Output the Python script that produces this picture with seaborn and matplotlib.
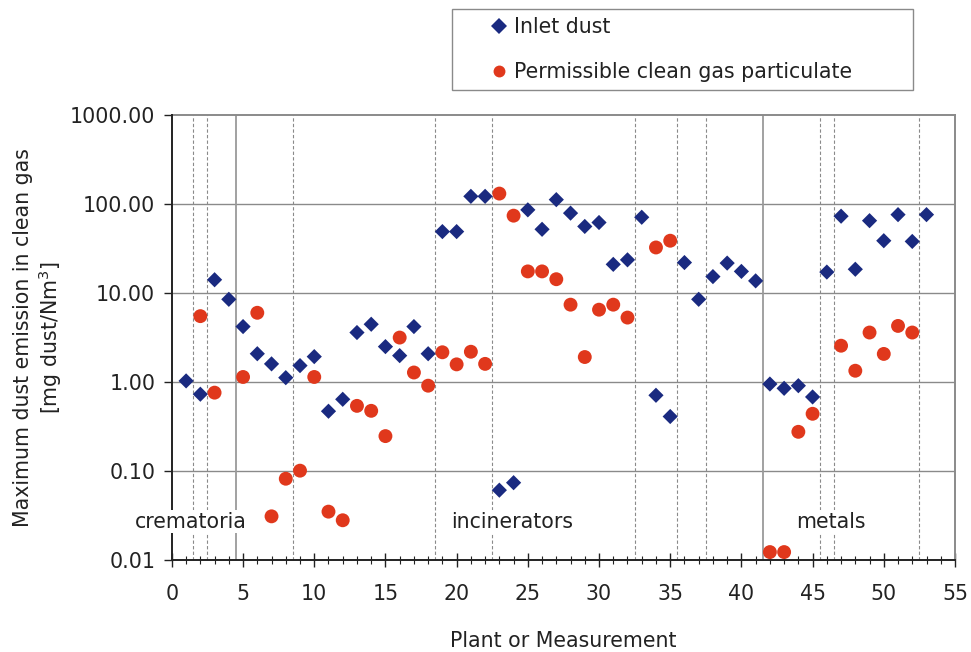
import numpy as np
import pandas as pd
import matplotlib
matplotlib.use("Agg")
import matplotlib.pyplot as plt
import matplotlib.patches as mpatches
from matplotlib.ticker import FixedLocator, MultipleLocator, FuncFormatter
import seaborn as sns

# measurements 1..53
PLANT = list(range(1, 54))

INLET_DUST = [
    1.03, 0.73, 14.1, 8.5, 4.2, 2.08, 1.6, 1.12, 1.53, 1.93,
    0.47, 0.64, 3.6, 4.46, 2.5, 1.98, 4.2, 2.08, 49, 49,
    122, 122, 0.061, 0.074, 86, 52, 112, 79, 56, 62,
    21, 23.6, 71, 0.71, 0.41, 22, 8.5, 15.3, 21.7, 17.5,
    13.7, 0.95, 0.85, 0.91, 0.68, 17.2, 73, 18.5, 65, 38.7,
    76, 38, 76,
]

nan = np.nan
PERMISSIBLE = [
    nan, 5.5, 0.76, nan, 1.14, 6.0, 0.031, 0.082, 0.101, 1.14,
    0.035, 0.028, 0.54, 0.475, 0.247, 3.16, 1.28, 0.91, 2.16, 1.58,
    2.19, 1.6, 131, 74, 17.5, 17.5, 14.3, 7.4, 1.91, 6.5,
    7.4, 5.3, nan, 32.5, 38.7, nan, nan, nan, nan, nan,
    nan, 0.0123, 0.0123, 0.276, 0.44, nan, 2.56, 1.34, 3.6, 2.07,
    4.27, 3.6, nan,
]

SERIES = ["Inlet dust", "Permissible clean gas particulate"]
PALETTE = {SERIES[0]: "#1a2a80", SERIES[1]: "#e0381c"}
MARKERS = {SERIES[0]: "D", SERIES[1]: "o"}

# group separators
DASHED_SEP = [1.5, 2.5, 8.5, 18.5, 22.5, 32.5, 35.5, 37.5, 45.5, 46.5, 52.5]
SOLID_SEP = [4.5, 41.5]

GROUP_LABELS = ["crematoria", "incinerators", "metals"]
GROUP_X = [1.3, 23.9, 46.3]
GROUP_Y = 0.027

YTICKS = [0.01, 0.1, 1, 10, 100, 1000]

df = pd.concat([
    pd.DataFrame({"plant": PLANT, "value": INLET_DUST, "series": SERIES[0]}),
    pd.DataFrame({"plant": PLANT, "value": PERMISSIBLE, "series": SERIES[1]}),
]).dropna()

sns.set_style("white")
plt.rcParams["font.family"] = ["DejaVu Sans"]
FS = 14.8

fig = plt.figure(figsize=(9.71, 6.52), dpi=100)
ax = fig.add_axes([0.177, 0.141, 0.8065, 0.6826])

ax.set_yscale("log")
ax.set_xlim(0, 55)
ax.set_ylim(0.01, 1000)

# horizontal grid at decades
for y in YTICKS[1:-1]:
    ax.axhline(y, color="#8a8a8a", lw=1.0, zorder=1)
for x in DASHED_SEP:
    ax.axvline(x, color="#8a8a8a", lw=0.8, ls=(0, (3, 2)), zorder=1)
for x in SOLID_SEP:
    ax.axvline(x, color="#9a9a9a", lw=1.3, zorder=1)

sns.scatterplot(
    data=df, x="plant", y="value", hue="series", style="series",
    hue_order=SERIES, style_order=SERIES,
    palette=PALETTE, markers=MARKERS, s=90, linewidth=0,
    ax=ax, zorder=3, clip_on=False,
)
# diamonds look bigger than circles at equal s; shrink them a bit
coll = ax.collections[-1]
sizes = np.where(df["series"].values == SERIES[0], 60, 100)
coll.set_sizes(sizes)

handles, labels = ax.get_legend_handles_labels()
ax.get_legend().remove()

for lab, gx in zip(GROUP_LABELS, GROUP_X):
    ax.text(gx, GROUP_Y, lab, ha="center", va="center", fontsize=FS,
            color="#222222", zorder=5, clip_on=False,
            bbox=dict(facecolor="white", edgecolor="none", pad=1.0))

ax.yaxis.set_major_locator(FixedLocator(YTICKS))
ax.yaxis.set_minor_locator(FixedLocator([]))
ax.yaxis.set_major_formatter(FuncFormatter(lambda v, p: f"{v:.2f}"))
ax.xaxis.set_major_locator(MultipleLocator(5))
ax.xaxis.set_minor_locator(MultipleLocator(1))

ax.tick_params(axis="y", which="major", direction="out", length=6, width=1,
               labelsize=FS, pad=6, left=True, colors="#222222")
ax.tick_params(axis="x", which="major", direction="inout", length=10, width=1,
               labelsize=FS, pad=12, bottom=True, colors="#222222")
ax.tick_params(axis="x", which="minor", direction="inout", length=6, width=0.8,
               bottom=True, color="#222222")

for side in ["left", "bottom"]:
    ax.spines[side].set_color("#222222")
    ax.spines[side].set_linewidth(1.4)
    ax.spines[side].set_zorder(4)
for side in ["top", "right"]:
    ax.spines[side].set_color("#8a8a8a")
    ax.spines[side].set_linewidth(1.4)

ax.set_xlabel("Plant or Measurement", fontsize=FS, labelpad=20, color="#222222")
ax.set_ylabel("Maximum dust emission in clean gas\n[mg dust/Nm$^3$]",
              fontsize=FS, labelpad=4, color="#222222", linespacing=1.15)

# legend box above the plot
fig.patches.append(mpatches.Rectangle(
    (0.4655, 0.862), 0.4748, 0.1242, transform=fig.transFigure,
    facecolor="white", edgecolor="#8a8a8a", lw=1.0, zorder=0))
fig.legend(handles, labels, loc="upper left", bbox_to_anchor=(0.495, 0.99),
           frameon=False, fontsize=FS, borderpad=0, handlelength=0.8,
           handletextpad=0.3, labelspacing=1.25, markerscale=0.9,
           labelcolor="#222222")

fig.savefig("out.png", dpi=100)
